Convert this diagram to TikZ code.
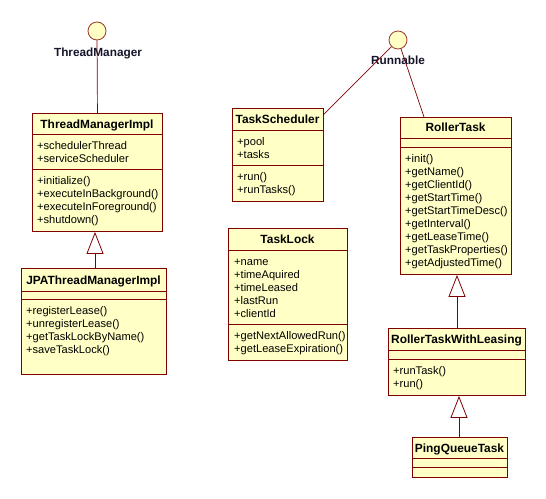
\documentclass[tikz,border=0pt]{standalone}
\usepackage{fontspec}
\setmainfont{Liberation Sans}
\usetikzlibrary{arrows.meta,calc}
\definecolor{clsfill}{HTML}{FFFFC6}
\definecolor{clsborder}{HTML}{800000}
\definecolor{ifborder}{HTML}{9A3A2A}
\definecolor{lbltext}{HTML}{14142A}
\tikzset{
  cls/.style={draw=clsborder, fill=clsfill, line width=0.9pt, inner sep=0pt, rectangle},
  border/.style={draw=clsborder, line width=0.9pt},
  title/.style={font=\fontsize{11.9}{13}\selectfont\bfseries, inner sep=0pt, text=black},
  mem/.style={font=\fontsize{11.1}{13}\selectfont, inner sep=0pt, text=black},
  iface/.style={circle, draw=ifborder, fill=clsfill, line width=0.8pt, minimum size=18pt, inner sep=0pt},
  iflabel/.style={font=\fontsize{11.8}{13}\selectfont\bfseries, inner sep=0pt, text=lbltext},
  conn/.style={draw=clsborder, line width=0.7pt},
  gen/.style={draw=clsborder, line width=0.8pt, -{Triangle[open, length=22pt, width=17pt, fill=white]}},
}
\newcommand{\umlbox}[7]{%
  \node[cls, minimum width={#4-#2}, minimum height={#5-#3}, anchor=north west] (#1) at (#2,#3) {};
  \draw[border] (#2,#6) -- (#4,#6);
  \draw[border] (#2,#7) -- (#4,#7);
}
\begin{document}
\begin{tikzpicture}[x=1pt,y=-1pt]
\useasboundingbox[fill=white] (0,0) rectangle (546,498);

% interfaces
\node[iflabel, anchor=base] (tmlbl) at (98,56) {ThreadManager};
\node[iflabel, anchor=base] (runlbl) at (398,64) {Runnable};
\node[iface] (tm) at (97,31) {};
\node[iface] (run) at (398,40) {};

% ThreadManagerImpl
\umlbox{tmi}{32}{113}{162}{231}{134}{169}
\node[title, anchor=base] (tmi-t) at (97,128) {ThreadManagerImpl};
\foreach \s [count=\i] in {+schedulerThread,+serviceScheduler}
  \node[mem, anchor=base west] (tmi-a\i) at (37,{149+13*(\i-1)}) {\s};
\foreach \s [count=\i] in {+initialize(),+executeInBackground(),+executeInForeground(),+shutdown()}
  \node[mem, anchor=base west] (tmi-m\i) at (37,{184+13*(\i-1)}) {\s};

% JPAThreadManagerImpl
\umlbox{jpa}{21}{268}{166}{374}{291}{299}
\node[title, anchor=base] (jpa-t) at (93.5,284) {JPAThreadManagerImpl};
\foreach \s [count=\i] in {+registerLease(),+unregisterLease(),+getTaskLockByName(),+saveTaskLock()}
  \node[mem, anchor=base west] (jpa-m\i) at (26,{314+13*(\i-1)}) {\s};

% TaskScheduler
\umlbox{ts}{232}{108}{323}{201}{130}{165}
\node[title, anchor=base] (ts-t) at (277.5,123) {TaskScheduler};
\foreach \s [count=\i] in {+pool,+tasks}
  \node[mem, anchor=base west] (ts-a\i) at (237,{145+13*(\i-1)}) {\s};
\foreach \s [count=\i] in {+run(),+runTasks()}
  \node[mem, anchor=base west] (ts-m\i) at (237,{180+13*(\i-1)}) {\s};

% TaskLock
\umlbox{tl}{228}{228}{347}{360}{250}{324}
\node[title, anchor=base] (tl-t) at (287.5,243.5) {TaskLock};
\foreach \s [count=\i] in {+name,+timeAquired,+timeLeased,+lastRun,+clientId}
  \node[mem, anchor=base west] (tl-a\i) at (234,{265+13*(\i-1)}) {\s};
\foreach \s [count=\i] in {+getNextAllowedRun(),+getLeaseExpiration()}
  \node[mem, anchor=base west] (tl-m\i) at (234,{339+13*(\i-1)}) {\s};

% RollerTask
\umlbox{rt}{400}{117}{511}{274}{138}{147}
\node[title, anchor=base] (rt-t) at (455.5,131.5) {RollerTask};
\foreach \s [count=\i] in {+init(),+getName(),+getClientId(),+getStartTime(),+getStartTimeDesc(),+getInterval(),+getLeaseTime(),+getTaskProperties(),+getAdjustedTime()}
  \node[mem, anchor=base west] (rt-m\i) at (405,{162+13*(\i-1)}) {\s};

% RollerTaskWithLeasing
\umlbox{rtwl}{388}{328}{525}{395}{350}{359}
\node[title, anchor=base] (rtwl-t) at (456.5,343.5) {RollerTaskWithLeasing};
\foreach \s [count=\i] in {+runTask(),+run()}
  \node[mem, anchor=base west] (rtwl-m\i) at (393,{374+13*(\i-1)}) {\s};

% PingQueueTask
\umlbox{pq}{412}{437}{507}{477}{458}{467}
\node[title, anchor=base] (pq-t) at (459.5,452) {PingQueueTask};

% connectors
\coordinate (gx1) at (95,0);
\coordinate (gx2) at (457,0);
\coordinate (gx3) at (459,0);
\coordinate (rtx) at (424,0);
\coordinate (tsend) at (323,115);
\draw[conn] (tm) -- (tmi.north);
\draw[conn] (run) -- (tsend);
\draw[conn] (run) -- (rt.north -| rtx);
\draw[gen] (jpa.north -| gx1) -- (tmi.south -| gx1);
\draw[gen] (rtwl.north -| gx2) -- (rt.south -| gx2);
\draw[gen] (pq.north -| gx3) -- (rtwl.south -| gx3);
\end{tikzpicture}
\end{document}
